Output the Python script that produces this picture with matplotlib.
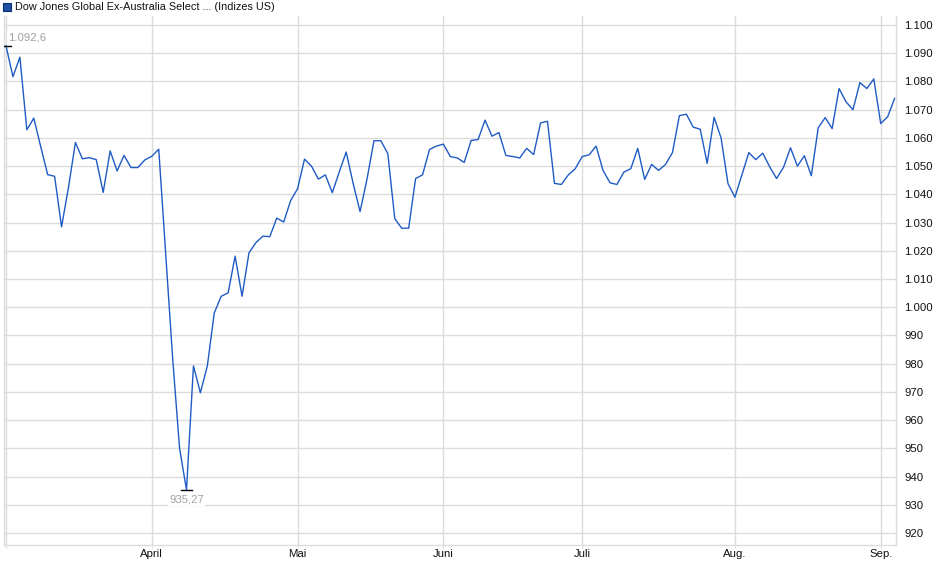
import numpy as np
import pandas as pd
import matplotlib
matplotlib.use("Agg")
import matplotlib.pyplot as plt
from matplotlib.patches import Rectangle

plt.rcParams['font.family'] = ['Liberation Sans', 'DejaVu Sans']

# Schlusskurse, Handelstage ab 03.03.2025
start_date = "2025-03-03"
holidays = ["2025-04-18", "2025-05-26", "2025-06-19", "2025-07-04", "2025-09-01"]
values = [
    1092.6, 1081.7, 1088.6, 1062.9, 1067.0, 1056.9, 1047.0, 1046.4, 1028.5, 1042.5,
    1058.4, 1052.6, 1053.0, 1052.3, 1040.7, 1055.4, 1048.3, 1053.8, 1049.5, 1049.5,
    1052.2, 1053.5, 1056.0, 1019.0, 982.0, 950.0, 935.27, 979.2, 969.7, 979.2,
    998.0, 1003.9, 1005.1, 1018.1, 1003.9, 1019.3, 1022.9, 1025.2, 1025.0, 1031.6,
    1030.2, 1037.8, 1042.0, 1052.5, 1050.0, 1045.4, 1046.9, 1040.6, 1047.9, 1055.0,
    1043.9, 1033.9, 1045.4, 1059.0, 1059.0, 1054.4, 1031.4, 1028.0, 1028.0, 1045.6,
    1046.9, 1055.9, 1057.1, 1057.8, 1053.4, 1052.9, 1051.3, 1059.1, 1059.4, 1066.3,
    1060.6, 1061.9, 1053.8, 1053.4, 1052.9, 1056.3, 1054.1, 1065.3, 1065.9, 1043.9,
    1043.5, 1046.9, 1049.1, 1053.4, 1054.0, 1057.1, 1048.5, 1044.1, 1043.5, 1047.9,
    1049.1, 1056.3, 1045.3, 1050.6, 1048.5, 1050.6, 1054.8, 1067.9, 1068.4, 1063.8,
    1063.1, 1051.0, 1067.3, 1060.0, 1043.8, 1039.0, 1046.9, 1054.8, 1052.3, 1054.6,
    1049.8, 1045.6, 1049.6, 1056.5, 1050.0, 1053.7, 1046.6, 1063.6, 1067.2, 1063.3,
    1077.5, 1072.8, 1070.0, 1079.6, 1077.5, 1080.9, 1065.1, 1067.5, 1074.0,
]
month_labels = ["", "April", "Mai", "Juni", "Juli", "Aug.", "Sep."]
y_ticks = [920, 930, 940, 950, 960, 970, 980, 990, 1000, 1010, 1020,
           1030, 1040, 1050, 1060, 1070, 1080, 1090, 1100]
title = "Dow Jones Global Ex-Australia Select ... (Indizes US)"

bday = pd.offsets.CustomBusinessDay(holidays=holidays)
dates = pd.date_range(start_date, periods=len(values), freq=bday)
x = np.arange(len(values))
vals = np.array(values)

# Monatsanfaenge
month_pos = [0] + [i for i in range(1, len(dates)) if dates[i].month != dates[i - 1].month]


def de_num(v, nd):
    s = f"{v:,.{nd}f}"
    return s.replace(",", "X").replace(".", ",").replace("X", ".")


W, H = 940, 579
fig = plt.figure(figsize=(W / 100, H / 100), dpi=100)
ax = fig.add_axes([4 / W, (H - 545) / H, 892 / W, 529 / H])

grid_c = "#dcdcdc"
ax.plot(x, vals, color="#1f5bc4", lw=1.0, zorder=3)

ax.set_xlim(-0.29, 128.2)
ax.set_ylim(915.75, 1103.2)

ax.set_xticks(month_pos)
ax.set_xticklabels(month_labels)
ax.set_yticks(y_ticks)
ax.set_yticklabels([de_num(v, 0) for v in y_ticks])
ax.yaxis.tick_right()
ax.tick_params(axis="y", length=0, pad=6, labelsize=8.2, labelcolor="#111111")
ax.tick_params(axis="x", length=2, color=grid_c, pad=1, labelsize=8.2, labelcolor="#111111")
ax.grid(True, color=grid_c, lw=1.0, zorder=0)

for side in ["left", "bottom", "right"]:
    ax.spines[side].set_color(grid_c)
    ax.spines[side].set_linewidth(1.0)
ax.spines["top"].set_visible(False)

# Hoch / Tief markieren
i_max = int(np.argmax(vals))
i_min = int(np.argmin(vals))
ax.plot([i_max - 0.75, i_max + 0.75], [vals[i_max], vals[i_max]], color="black", lw=1.0, zorder=4)
ax.plot([i_min - 0.8, i_min + 0.8], [vals[i_min], vals[i_min]], color="black", lw=1.0, zorder=4)
ax.annotate(de_num(vals[i_max], 1),
            (i_max, vals[i_max]), xytext=(2, 8), textcoords="offset pixels",
            ha="left", va="center", fontsize=8.2, color="#a0a0a0", zorder=5,
            bbox=dict(boxstyle="square,pad=0.1", fc="white", ec="none"))
ax.annotate(de_num(vals[i_min], 2),
            (i_min, vals[i_min]), xytext=(0, -10), textcoords="offset pixels",
            ha="center", va="center", fontsize=8.2, color="#a0a0a0", zorder=5,
            bbox=dict(boxstyle="square,pad=0.1", fc="white", ec="none"))

# Legende oben links
fig.patches.append(Rectangle((3 / W, 1 - 11 / H), 8 / W, 8 / H, transform=fig.transFigure,
                             fc="#1c4fa5", ec="#0b2d6e", lw=0.8))
fig.text(15 / W, 1 - 6.5 / H, title, ha="left", va="center", fontsize=7.8, color="#111111")

fig.savefig("out.png", dpi=100)
